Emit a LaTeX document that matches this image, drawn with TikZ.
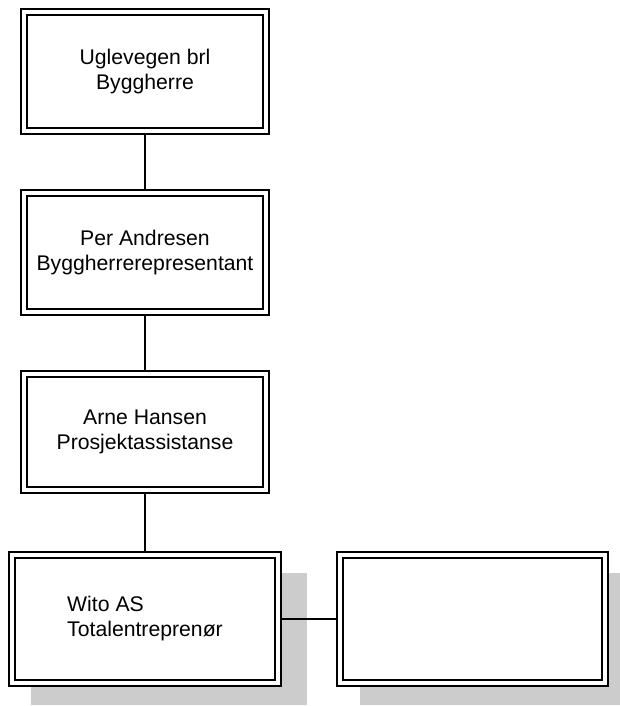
\documentclass[tikz,border=0pt]{standalone}
\usepackage{fontspec}
\setmainfont{Liberation Sans}
\usetikzlibrary{positioning,shadows}
\tikzstyle{block} = [rectangle, draw, double, line width=1.3pt, double distance=3.2pt,
    fill=white, minimum width=181.5pt, minimum height=89.25pt, inner sep=0pt,
    outer sep=0pt, align=center, font=\fontsize{15.9pt}{18.75pt}\selectfont]
\tikzstyle{shadowed} = [drop shadow={shadow xshift=17.25pt, shadow yshift=-14.6pt,
    shadow scale=1.035, fill=black!20, opacity=1}]
\tikzstyle{line} = [draw, line width=0.9pt, shorten <=2.5pt, shorten >=2.5pt]
\begin{document}
\begin{tikzpicture}[x=0.75pt, y=-0.75pt, node distance=46.5pt]
        \useasboundingbox (0,0) rectangle (620,706);
        \clip (0,0) rectangle (620,706);
        % Place nodes
        \node [block] (owner) at (145,71.5) {Uglevegen brl\\Byggherre};
        \node [block, below= of owner] (rep) {Per Andresen\\Byggherrerepresentant};
        \node [block, below= of rep, minimum height=87pt] (assist) {Arne Hansen\\Prosjektassistanse};
        \node [block, shadowed, below=48.75pt of assist, minimum width=200pt,
            minimum height=96pt, align=left] (wito) {Wito AS\\Totalentreprenør};
        \node [block, shadowed, right= of wito, minimum width=198.5pt,
            minimum height=96pt] (empty) {};
        % Draw edges
        \path [line] (owner) -- (rep);
        \path [line] (rep) -- (assist);
        \path [line] (assist.south) -- (assist.south |- wito.north);
        \path [line] (wito) -- (empty);
\end{tikzpicture}
\end{document}
